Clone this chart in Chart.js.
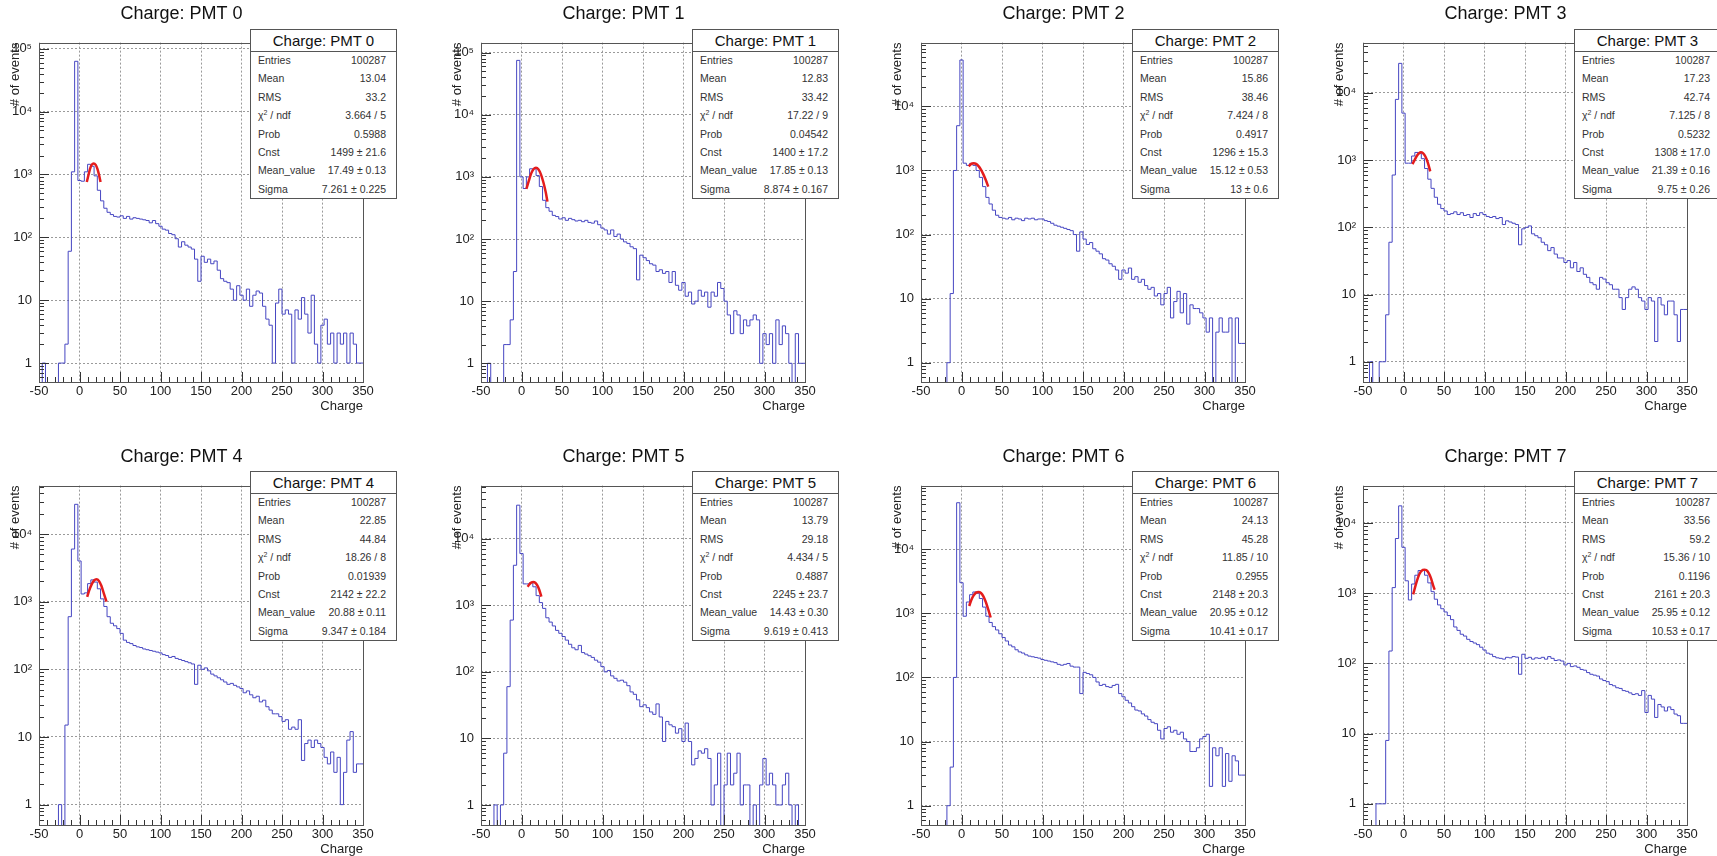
<!DOCTYPE html>
<html>
<head>
<meta charset="utf-8">
<script src="https://cdn.jsdelivr.net/npm/chart.js@4.4.1/dist/chart.umd.min.js"></script>
<style>
  html, body { margin: 0; padding: 0; background: #fff; }
  body { width: 1717px; height: 856px; overflow: hidden; position: relative;
         font-family: "Liberation Sans", Arial, sans-serif; }
  canvas.pad { position: absolute; }
  .stats { position: absolute; width: 147px; height: 170px; box-sizing: border-box;
           background: #fff; border: 1px solid #555; color: #333;
           font-family: "Liberation Sans", Arial, sans-serif; }
  .stats .head { height: 21px; line-height: 21px; text-align: center; font-size: 15px !important;
                 color: #111; border-bottom: 1px solid #555; white-space: nowrap; }
  .stats .row { height: 18.4px; line-height: 18.4px; display: flex; justify-content: space-between;
                padding: 0 10px 0 7px; font-size: 10.5px !important; position: relative; top: -1px;
                white-space: nowrap; }
  .stats sup { font-size: 7px; line-height: 0; }
</style>
</head>
<body>
<script>
// histogram bins: 100 bins of width 4 from -50 to 350
const BIN_START = -50;
const BIN_WIDTH = 4;

const pmtNames = ['PMT 0', 'PMT 1', 'PMT 2', 'PMT 3', 'PMT 4', 'PMT 5', 'PMT 6', 'PMT 7'];

const pmt0 = [0,0,1,0,0,0,0,1,1,2,
  60,1100,63000,800,780,1100,1450,1350,950,560,
  380,290,250,230,215,210,220,200,215,195,
  205,200,195,190,185,170,185,165,150,135,
  130,115,110,95,70,85,75,70,65,45,
  20,50,40,45,38,42,30,22,20,19,
  15,10,17,12,10,15,8,12,14,13,
  8,5,4,1,9,15,6,7,6,1,
  7,5,11,6,3,12,2,1,4,5,
  2,3,1,3,2,3,1,3,2,1];
const pmt1 = [0,0,0,1,0,0,0,0,2,2,
  5,30,75000,1000,650,1000,1350,1350,1050,700,
  420,320,280,240,230,210,220,200,215,205,
  195,200,190,200,185,180,195,170,150,140,
  120,140,110,120,100,90,85,75,70,22,
  55,50,45,40,38,30,32,28,30,20,
  30,18,15,20,12,14,9,10,15,12,
  14,8,14,12,20,16,10,6,3,7,
  6,3,5,4,5,6,5,1,3,2,
  3,1,5,2,4,3,1,0,3,1];
const pmt2 = [0,0,0,0,0,0,0,0,0,1,
  12,1000,5000,53000,1300,1200,1290,1200,1000,780,
  560,380,300,240,200,185,180,175,185,170,
  180,175,165,180,175,180,170,175,175,165,
  160,150,140,135,130,125,120,115,100,55,
  110,85,70,75,60,55,50,42,40,35,
  32,28,20,28,25,30,20,22,18,20,
  16,14,15,11,12,8,12,15,5,9,
  13,6,12,4,8,7,7,6,5,3,
  5,0,3,5,3,3,5,0,5,2];
const pmt3 = [0,0,0,1,0,0,1,1,5,60,
  600,8000,27500,5000,900,900,1150,1300,1250,1050,
  750,520,380,280,220,190,175,155,160,170,
  155,165,150,155,140,160,150,165,155,145,
  140,145,135,140,110,125,120,115,110,55,
  95,100,105,80,75,70,60,55,45,50,
  40,35,35,30,32,25,30,22,25,20,
  18,15,14,12,18,17,15,14,12,12,
  9,6,9,12,13,12,9,8,6,9,
  8,2,9,7,5,8,8,5,2,6];
const pmt4 = [0,0,0,0,0,0,0,1,0,15,
  600,6000,27500,4000,1300,1350,1850,2100,1950,1550,
  1100,850,600,480,440,400,340,270,250,240,
  225,215,210,200,195,190,185,180,175,165,
  160,150,155,145,140,135,130,125,120,60,
  115,100,105,95,85,80,75,70,65,60,
  62,58,55,52,45,48,42,38,40,33,
  35,28,25,22,22,20,17,18,13,14,
  13,18,4.5,8,9,7,9,8,7,5,
  4,6,3,5,1,3,9,12,3,4];
const pmt5 = [0,0,0,0,0,1,0,1,6,60,
  600,4000,32000,6000,2100,2100,2200,1900,1400,1100,
  900,650,560,490,420,380,340,300,260,230,
  215,250,195,185,175,165,150,140,120,100,
  105,87,80,73,75,70,62,50,46,38,
  30,32,29,25,23,33,21,9,18,16,
  15,12,14,9,17,9,4,5,6.5,6,
  7,5,1,2,6,0,2,6,2,3,
  6,1,2,2,0,1,0,2,5,2,
  3,2,1,1,2,3,1,0,1,0];
const pmt6 = [0,0,0,0,0,0,0,0,0,1,
  4,100,53000,3000,900,1500,1950,2150,2050,1700,
  1250,900,720,620,550,480,420,370,320,300,
  270,250,240,225,215,210,205,200,190,185,
  180,175,170,160,155,160,165,150,145,145,
  56,120,115,110,100,85,75,78,72,70,
  75,78,56,50,44,40,35,31,30,27,
  25,22,20,19,15,11,16,17,14,15,
  13,14,11,10,7,7,8,11,12,13,
  2,8,6,8,2,6.5,2.4,6,5,3];
const pmt7 = [0,0,0,0,0,1,1,1,8,150,
  1200,6000,17500,4500,1500,800,1350,1800,2100,2100,
  1800,1400,1050,820,680,600,540,480,420,330,
  295,260,245,220,205,195,185,170,155,140,
  135,125,120,118,115,122,120,125,123,70,
  135,118,122,115,120,118,122,115,125,118,
  110,112,108,95,100,90,92,88,82,80,
  74,70,68,66,60,57,55,50,48,45,
  44,41,40,38,36,37,35,41,20,35,
  31,17,26,24,21,24,22,19,18,14];
const histograms = [pmt0, pmt1, pmt2, pmt3, pmt4, pmt5, pmt6, pmt7];

// red gaussian fit curves
const fitX = [
  [9, 11, 13, 15, 17.5, 20, 22, 24, 26],
  [6, 9, 12, 15, 17.85, 21, 24, 27, 30, 32],
  [9, 12, 15.1, 18, 21, 24, 27, 30, 33],
  [11, 14, 17, 19.5, 21.4, 24, 27, 30, 33],
  [9.5, 12, 15, 18, 20.9, 24, 27, 30, 33.3],
  [7.5, 10, 12.5, 14.4, 17, 19.5, 22, 24.5],
  [9.5, 12, 15, 18, 21, 24, 27, 30, 33, 36],
  [12, 15, 18, 21, 24, 26, 28, 31, 34, 37, 38.5]
];
const fitY = [
  [760, 970, 1230, 1420, 1499, 1420, 1240, 1000, 760],
  [640, 860, 1140, 1340, 1400, 1320, 1100, 820, 560, 400],
  [1160, 1270, 1296, 1265, 1170, 1030, 870, 710, 560],
  [870, 1020, 1180, 1280, 1308, 1270, 1130, 920, 680],
  [1180, 1470, 1800, 2060, 2142, 2030, 1720, 1330, 1000],
  [1900, 2080, 2210, 2245, 2180, 1990, 1700, 1350],
  [1300, 1600, 1900, 2100, 2148, 2070, 1840, 1500, 1150, 860],
  [960, 1300, 1680, 1990, 2140, 2161, 2130, 1940, 1620, 1250, 1120]
];

const yMax = [1.25e5, 1.45e5, 9.9e4, 5.6e4, 5.2e4, 6.3e4, 9.8e4, 3.4e4];
const yTickValues = [1, 10, 100, 1000, 10000, 100000];
const yTickLabels = ['1', '10', '10²', '10³', '10⁴', '10⁵'];

// stats box contents
const entries = ['100287', '100287', '100287', '100287', '100287', '100287', '100287', '100287'];
const means = ['13.04', '12.83', '15.86', '17.23', '22.85', '13.79', '24.13', '33.56'];
const rmsValues = ['33.2', '33.42', '38.46', '42.74', '44.84', '29.18', '45.28', '59.2'];
const chi2Ndf = ['3.664 / 5', '17.22 / 9', '7.424 / 8', '7.125 / 8', '18.26 / 8', '4.434 / 5', '11.85 / 10', '15.36 / 10'];
const probs = ['0.5988', '0.04542', '0.4917', '0.5232', '0.01939', '0.4887', '0.2955', '0.1196'];
const cnsts = ['1499 ± 21.6', '1400 ± 17.2', '1296 ± 15.3', '1308 ± 17.0', '2142 ± 22.2', '2245 ± 23.7', '2148 ± 20.3', '2161 ± 20.3'];
const meanValues = ['17.49 ± 0.13', '17.85 ± 0.13', '15.12 ± 0.53', '21.39 ± 0.16', '20.88 ± 0.11', '14.43 ± 0.30', '20.95 ± 0.12', '25.95 ± 0.12'];
const sigmas = ['7.261 ± 0.225', '8.874 ± 0.167', '13 ± 0.6', '9.75 ± 0.26', '9.347 ± 0.184', '9.619 ± 0.413', '10.41 ± 0.17', '10.53 ± 0.17'];

// page layout (pixel positions of each plot frame)
const PLOT_LEFT = [39, 481, 921, 1363];
const PLOT_TOP = [43, 486];
const Y_AXIS_W = 39, X_AXIS_H = 32, TITLE_H = 44.6;

Chart.defaults.font.family = '"Liberation Sans", Arial, sans-serif';
Chart.defaults.color = '#222';

// ROOT style frame with tick marks pointing inwards
const rootFrame = {
  id: 'rootFrame',
  afterDatasetsDraw(chart) {
    const { ctx, chartArea: a, scales: { x, y } } = chart;
    ctx.save();
    ctx.strokeStyle = '#333';
    ctx.lineWidth = 1;
    ctx.beginPath();
    for (let v = -50; v <= 350; v += 10) {
      const px = Math.round(x.getPixelForValue(v)) + 0.5;
      const len = v % 50 === 0 ? 10 : 5;
      ctx.moveTo(px, a.bottom);
      ctx.lineTo(px, a.bottom - len);
    }
    for (let e = -1; e <= 5; e++) {
      for (let k = 1; k <= 9; k++) {
        const v = k * Math.pow(10, e);
        if (v < y.min || v > y.max) continue;
        const py = Math.round(y.getPixelForValue(v)) + 0.5;
        ctx.moveTo(a.left, py);
        ctx.lineTo(a.left + (k === 1 ? 10 : 5), py);
      }
    }
    ctx.stroke();
    ctx.strokeStyle = '#555';
    ctx.strokeRect(Math.round(a.left) + 0.5, Math.round(a.top) + 0.5,
                   Math.round(a.right - a.left), Math.round(a.bottom - a.top));
    ctx.restore();
  }
};

function histPoints(counts) {
  // zero bins go below the frame, like ROOT draws them
  let pts = counts.map((c, i) => ({ x: BIN_START + i * BIN_WIDTH, y: c > 0 ? c : 0.01 }));
  pts.push({ x: BIN_START + counts.length * BIN_WIDTH, y: pts[pts.length - 1].y });
  return pts;
}

function makeStats(i, left, top) {
  const rows = [
    ['Entries', entries[i]], ['Mean', means[i]], ['RMS', rmsValues[i]],
    ['χ<sup>2</sup> / ndf', chi2Ndf[i]], ['Prob', probs[i]], ['Cnst', cnsts[i]],
    ['Mean_value', meanValues[i]], ['Sigma', sigmas[i]]
  ];
  let box = document.createElement('div');
  box.className = 'stats';
  box.style.left = left + 'px';
  box.style.top = top + 'px';
  let html = `<div class="head" style="font-size:15px">Charge: ${pmtNames[i]}</div>`;
  rows.forEach(r => {
    html += `<div class="row" style="font-size:10.5px"><span>${r[0]}</span><span>${r[1]}</span></div>`;
  });
  box.innerHTML = html;
  document.body.appendChild(box);
}

histograms.forEach((counts, i) => {
  const col = i % 4, row = Math.floor(i / 4);
  const plotLeft = PLOT_LEFT[col], plotTop = PLOT_TOP[row];

  let canvas = document.createElement('canvas');
  canvas.className = 'pad';
  canvas.width = 403;
  canvas.height = 421;
  canvas.style.left = (plotLeft - Y_AXIS_W) + 'px';
  canvas.style.top = (plotTop - TITLE_H) + 'px';
  document.body.appendChild(canvas);

  const fitPts = fitX[i].map((x, k) => ({ x: x, y: fitY[i][k] }));

  new Chart(canvas, {
    type: 'line',
    data: {
      datasets: [{
        label: 'fit',
        data: fitPts,
        borderColor: '#e41c1c',
        borderWidth: 2.5,
        pointRadius: 0,
        cubicInterpolationMode: 'monotone',
        fill: false
      }, {
        label: 'charge',
        data: histPoints(counts),
        borderColor: '#4646c2',
        borderWidth: 1,
        pointRadius: 0,
        stepped: 'after',
        fill: false
      }]
    },
    options: {
      responsive: false,
      animation: false,
      devicePixelRatio: 1,
      events: [],
      layout: { padding: { left: 0, top: 0, right: 40, bottom: 5 } },
      plugins: {
        legend: { display: false },
        tooltip: { enabled: false },
        title: {
          display: true,
          text: 'Charge: ' + pmtNames[i],
          color: '#111',
          font: { size: 18, weight: 'normal' },
          padding: { top: 5.5, bottom: 17.5 }
        }
      },
      scales: {
        x: {
          type: 'linear', min: -50, max: 350,
          afterFit: s => { s.height = X_AXIS_H; },
          ticks: { stepSize: 50, autoSkip: false, maxRotation: 0, padding: 2, font: { size: 13 } },
          grid: { drawTicks: false, color: '#9a9a9a', lineWidth: 1 },
          border: { display: false, dash: [2, 2] },
          title: { display: true, text: 'Charge', align: 'end', font: { size: 13 }, padding: { top: 0, bottom: 0 } }
        },
        y: {
          type: 'logarithmic', min: 0.5, max: yMax[i],
          afterFit: s => { s.width = Y_AXIS_W; },
          afterBuildTicks: s => {
            s.ticks = yTickValues.filter(v => v >= s.min && v <= s.max).map(v => ({ value: v }));
          },
          ticks: {
            autoSkip: false, padding: 7, font: { size: 13 },
            callback: v => { let k = yTickValues.indexOf(v); return k >= 0 ? yTickLabels[k] : ''; }
          },
          grid: { drawTicks: false, color: '#9a9a9a', lineWidth: 1 },
          border: { display: false, dash: [2, 2] },
          title: { display: true, text: '# of events', align: 'end', font: { size: 13 }, padding: { top: 8, bottom: 0 } }
        }
      }
    },
    plugins: [rootFrame]
  });

  makeStats(i, plotLeft + 211, plotTop - (row === 0 ? 14 : 15));
});
</script>
</body>
</html>
